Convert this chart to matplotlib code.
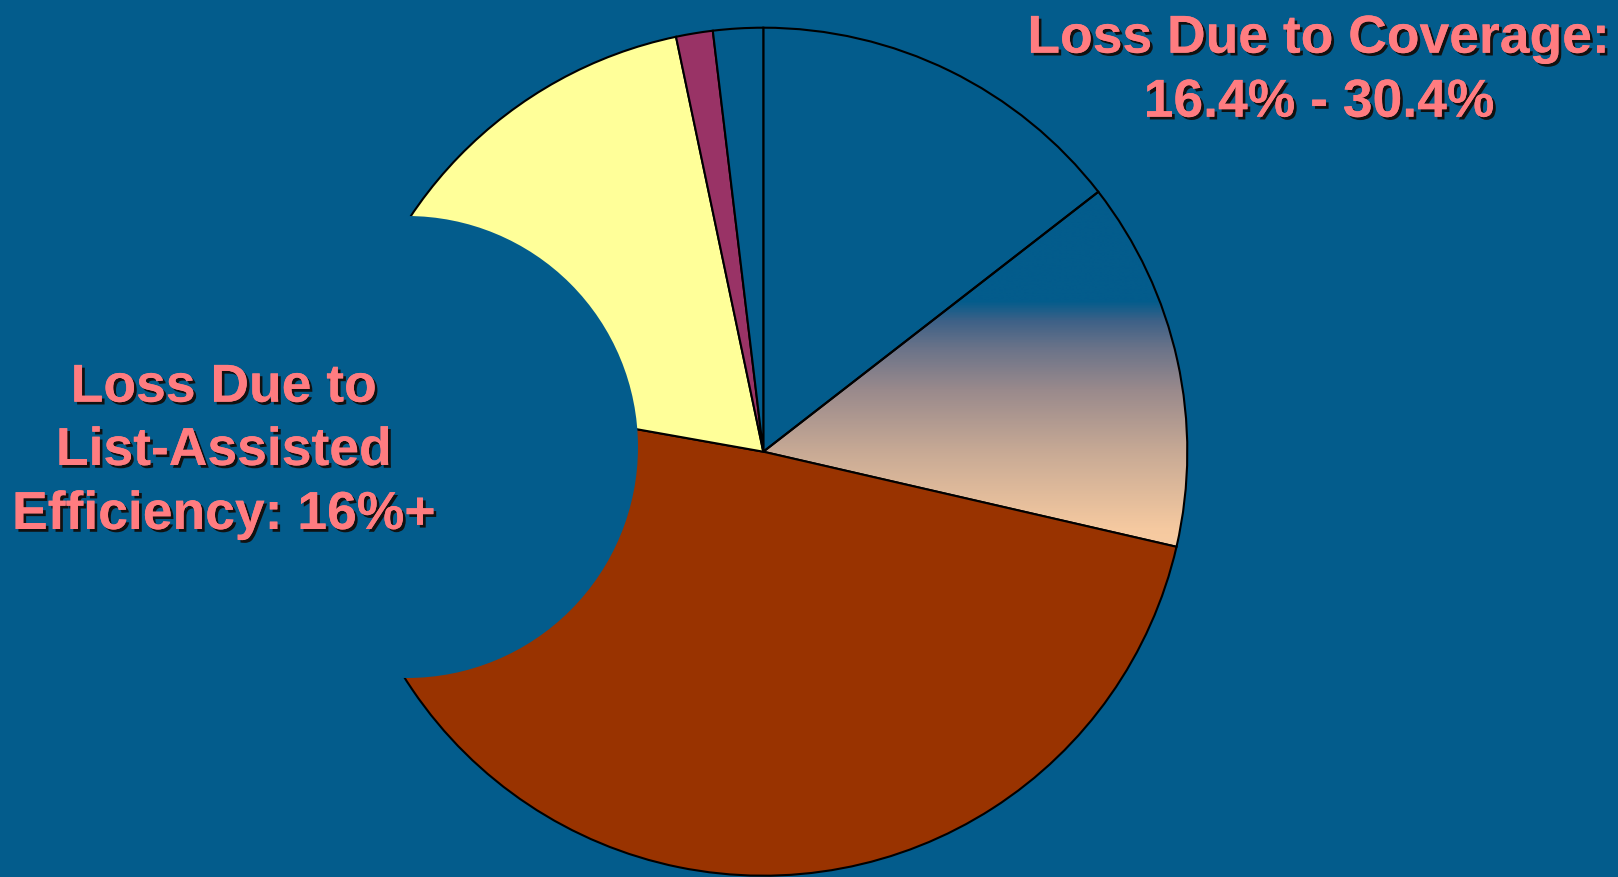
import numpy as np
import matplotlib
matplotlib.use('Agg')
import matplotlib.pyplot as plt
import matplotlib.patheffects as pe
from matplotlib.colors import LinearSegmentedColormap
from matplotlib.patches import Circle

# slices clockwise from 12 o'clock (percent of the pie)
slice_names = ['Blue', 'Gradient', 'Brown', 'Yellow', 'Purple', 'Blue small']
slice_values = [14.5, 14.1, 49.2, 18.9, 1.4, 1.9]
slice_colors = ['#035C8C', 'none', '#993300', '#FFFF99', '#993366', '#035C8C']

right_label = ['Loss Due to Coverage:', '16.4% - 30.4%']
left_label = ['Loss Due to', 'List-Assisted', 'Efficiency: 16%+']

bg = '#035C8C'
text_color = '#FF7C80'

# vertical gradient of the second slice (top -> bottom)
grad_stops = [(0.0, '#035C8C'), (0.307, '#035C8C'), (0.363, '#3E6187'),
              (0.439, '#6A7389'), (0.559, '#9A8A8C'), (0.735, '#C8AA95'),
              (0.95, '#F5C9A0'), (1.0, '#F8CCA2')]

W, H = 1618, 877
fig = plt.figure(figsize=(W / 100, H / 100), dpi=100, facecolor=bg)
ax = fig.add_axes([0, 0, 1, 1])

center = (763.3, H - 451.7)
radius = 424

wedges, _ = ax.pie(slice_values, colors=slice_colors, startangle=90, counterclock=False,
                   center=center, radius=radius,
                   wedgeprops=dict(edgecolor='black', linewidth=1.5))

# gradient fill clipped to the wedge
gw = wedges[1]
ext = gw.get_path().get_extents()
cmap = LinearSegmentedColormap.from_list('grad', grad_stops)
col = cmap(np.linspace(0, 1, 400))[:, None, :3]
img = ax.imshow(col, extent=[ext.x0, ext.x1, ext.y0, ext.y1], origin='upper',
                aspect='auto', zorder=0.5, interpolation='bilinear')
img.set_clip_path(gw)

# background-coloured cut-out on the left side of the pie
ax.add_patch(Circle((407, H - 447), 231, facecolor=bg, edgecolor='none', zorder=3))

shadow = [pe.withSimplePatchShadow(offset=(2, -2), shadow_rgbFace='#111111', alpha=1.0),
          pe.Normal()]

def draw_lines(lines, x, baselines):
    for line, y in zip(lines, baselines):
        ax.text(x, H - y, line, ha='center', va='baseline', color=text_color,
                fontsize=38.5, fontweight='bold', family='Liberation Sans',
                path_effects=shadow, zorder=4)

draw_lines(right_label, 1319, [52.7, 116.7])
draw_lines(left_label, 224, [401.7, 465, 529])

ax.set_xlim(0, W)
ax.set_ylim(0, H)
ax.set_aspect('auto')
ax.set_axis_off()

fig.savefig('out.png', dpi=100, facecolor=bg)
